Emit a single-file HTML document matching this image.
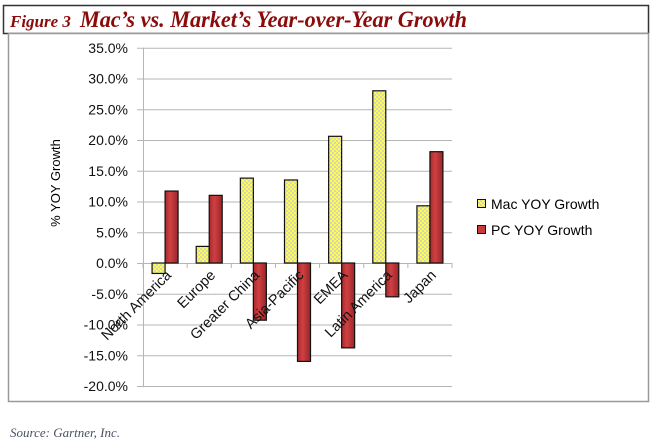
<!DOCTYPE html>
<html><head><meta charset="utf-8"><style>
html,body{margin:0;padding:0;background:#fff;width:660px;height:442px;overflow:hidden}
svg{display:block}
</style></head><body>
<svg width="660" height="442" viewBox="0 0 660 442" xmlns="http://www.w3.org/2000/svg" font-family="'Liberation Sans', sans-serif">
<defs>
<pattern id="chk" width="4" height="4" patternUnits="userSpaceOnUse">
<rect width="4" height="4" fill="#ffff40"/><rect width="2" height="2" fill="#d6d6c0"/><rect x="2" y="2" width="2" height="2" fill="#d6d6c0"/>
</pattern>
<linearGradient id="red" x1="0" x2="1" y1="0" y2="0">
<stop offset="0" stop-color="#a82a2c"/><stop offset="0.4" stop-color="#cf4043"/><stop offset="1" stop-color="#9a2527"/>
</linearGradient>
</defs>
<rect x="3.5" y="5.5" width="645" height="28" fill="#fff" stroke="#333" stroke-width="1.5"/>
<text x="10" y="27" font-family="'Liberation Serif', serif" font-style="italic" font-weight="bold" fill="#8b0a0a"><tspan font-size="17">Figure 3</tspan><tspan dx="9" font-size="23" textLength="387" lengthAdjust="spacingAndGlyphs">Mac’s vs. Market’s Year-over-Year Growth</tspan></text>
<rect x="8.5" y="33.5" width="640" height="368" fill="#fff" stroke="#999" stroke-width="1.5"/>
<g id="grid"></g>
<g id="yt"></g>
<g id="bars"></g>
<g id="xt"></g>
<text transform="translate(60,183) rotate(-90)" text-anchor="middle" font-size="13" fill="#000">% YOY Growth</text>
<g>
<g><rect x="477.5" y="199.5" width="8" height="8" fill="url(#chk)" stroke="#111"/><text x="491" y="209" font-size="14">Mac YOY Growth</text></g>
<g><rect x="477.5" y="225.5" width="8" height="8" fill="#c93a3c" stroke="#111"/><text x="491" y="235" font-size="14">PC YOY Growth</text></g>
</g>
<text x="10" y="437" font-family="'Liberation Serif', serif" font-style="italic" font-size="13" fill="#4a5060">Source: Gartner, Inc.</text>
</svg>
<script>
const categories=["North America","Europe","Greater China","Asia-Pacific","EMEA","Latin America","Japan"];
const macValues=[-1.7,2.7,13.8,13.5,20.6,28.0,9.3];
const pcValues=[11.7,11.0,-9.3,-16.0,-13.8,-5.5,18.1];
const yTicks=[35,30,25,20,15,10,5,0,-5,-10,-15,-20];
const NS="http://www.w3.org/2000/svg";
const x0=143,x1=452,yZero=263,pxPer=6.15;
const bw=(x1-x0)/categories.length;
function y(v){return yZero-v*pxPer;}
function mk(t,a,p){const e=document.createElementNS(NS,t);for(const k in a)e.setAttribute(k,a[k]);p.appendChild(e);return e;}
const grid=document.getElementById('grid'),yt=document.getElementById('yt'),bars=document.getElementById('bars'),xt=document.getElementById('xt');
yTicks.forEach(v=>{
 const l=mk('line',{x1:x0-6,x2:x1,y1:y(v)+0.5,y2:y(v)+0.5,stroke:'#b5b5b5','stroke-width':1},grid);
 
 
 const t=mk('text',{x:x0-15,y:y(v)+5,'text-anchor':'end','font-size':14,fill:'#111'},yt);
 t.textContent=v.toFixed(1)+'%';
 
 
});
const ax=mk('line',{x1:x0+0.5,x2:x0+0.5,y1:y(35),y2:y(-20),stroke:'#b5b5b5'},grid);


for(let i=0;i<=categories.length;i++){
 const tk=mk('line',{x1:x0+i*bw,x2:x0+i*bw,y1:yZero,y2:yZero+5,stroke:'#b5b5b5'},grid);
 
 
}
categories.forEach((c,i)=>{
 const cx=x0+(i+0.5)*bw,w=13;
 [[macValues[i],'url(#chk)',cx-w,'bar-mac'],[pcValues[i],'url(#red)',cx,'bar-pc']].forEach(([v,f,bx,n])=>{
  const top=Math.min(y(v),yZero),h=Math.abs(y(v)-yZero);
  const r=mk('rect',{x:bx,y:top,width:w,height:h,fill:f,stroke:'#111','stroke-width':1.2},bars);
  
  
 });
 const t=mk('text',{transform:`translate(${cx+7},${yZero+13}) rotate(-45)`,'text-anchor':'end','font-size':14.5,fill:'#111'},xt);
 t.textContent=c;
 
 
});
</script>
</body></html>
